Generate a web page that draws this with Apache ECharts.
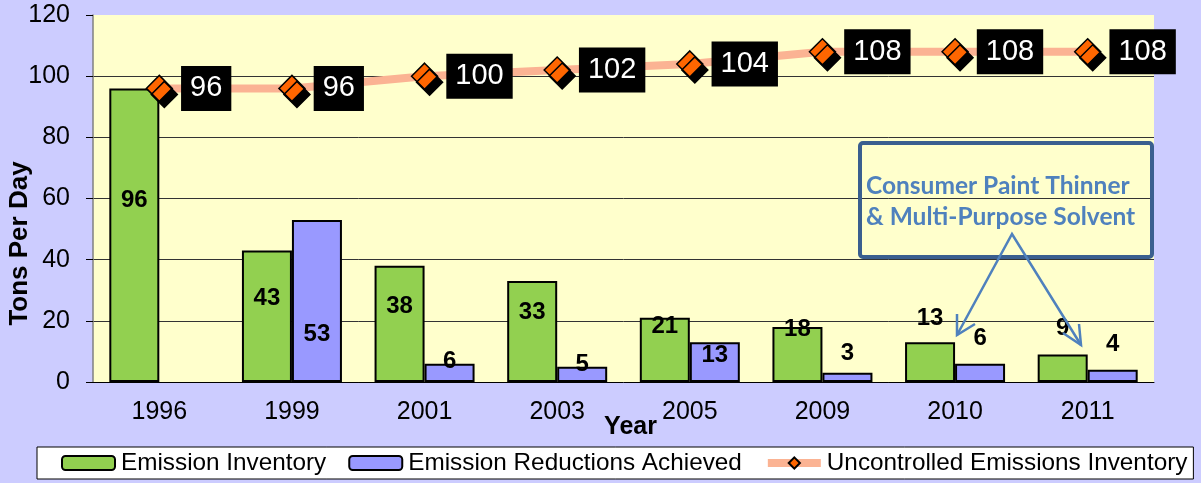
<!DOCTYPE html>
<html>
<head>
<meta charset="utf-8">
<title>Tons Per Day</title>
<script src="https://cdn.jsdelivr.net/npm/echarts@6/dist/echarts.min.js"></script>
<style>
  html, body { margin: 0; padding: 0; background: #CCCCFF; }
  #chart { width: 1201px; height: 483px; }
</style>
</head>
<body>
<div id="chart"></div>
<script>
(function () {
    'use strict';

    //////////DATA
    var years = ['1996', '1999', '2001', '2003', '2005', '2009', '2010', '2011'];
    var emissionInventory = [96, 43, 38, 33, 21, 18, 13, 9];
    var reductionsAchieved = [null, 53, 6, 5, 13, 3, 6, 4];
    var uncontrolled = [96, 96, 100, 102, 104, 108, 108, 108];
    var yTicks = { min: 0, max: 120, step: 20 };
    //////////DATA

    //Donde cae cada etiqueta de barra, en px desde el tope de la barra (como estaba en el original)
    var invLabelShift = [112, 48, 41, 31, 9, 2, -24, -26];
    var redLabelShift = [0, 114, -2, -2, 13, -19, -25, -25];

    var font = 'Liberation Sans, Arial, sans-serif';
    var chart = echarts.init(document.getElementById('chart'));

    function barData(values, shifts) {
        var out = [];
        for (var i = 0; i < values.length; i++) {
            out.push({
                value: values[i],
                label: { position: ['50%', shifts[i]] }
            });
        }
        return out;
    }

    var barLabel = {
        show: true,
        color: '#000',
        fontFamily: font,
        fontWeight: 'bold',
        fontSize: 24,
        align: 'center',
        verticalAlign: 'middle'
    };

    var option = {
        backgroundColor: '#CCCCFF',
        animation: false,
        grid: {
            left: 93, right: 47, top: 15, bottom: 101,
            outerBoundsMode: 'none',
            containLabel: false,
            show: true, backgroundColor: '#FFFFCC', borderWidth: 0
        },
        legend: {
            left: 37, top: 447,
            width: 1150,
            padding: [2, 6, 2, 24],
            itemGap: 22,
            itemWidth: 53, itemHeight: 14,
            backgroundColor: '#fff',
            borderColor: '#000', borderWidth: 1,
            selectedMode: false,
            textStyle: { fontFamily: font, fontSize: 24.3, lineHeight: 28, color: '#000', padding: [0, 0, 0, 1] },
            data: [
                'Emission Inventory',
                'Emission Reductions Achieved',
                { name: 'Uncontrolled Emissions Inventory', lineStyle: { width: 8 } }
            ]
        },
        xAxis: {
            type: 'category',
            data: years,
            name: 'Year',
            nameLocation: 'middle',
            nameGap: 33,
            nameMoveOverlap: false,
            nameTextStyle: { fontFamily: font, fontWeight: 'bold', fontSize: 25, color: '#000', padding: [0, 0, 0, 14] },
            axisLine: { lineStyle: { color: '#000', width: 1 } },
            axisTick: { length: 7, lineStyle: { color: '#000' } },
            axisLabel: { fontFamily: font, fontSize: 25, color: '#000', margin: 18 }
        },
        yAxis: {
            type: 'value',
            min: yTicks.min, max: yTicks.max, interval: yTicks.step,
            name: 'Tons Per Day',
            nameLocation: 'middle',
            nameGap: 60,
            nameMoveOverlap: false,
            nameTextStyle: { fontFamily: font, fontWeight: 'bold', fontSize: 26, color: '#000', padding: [0, 90, 0, 0] },
            axisLine: { show: true, lineStyle: { color: '#808080', width: 1.5 } },
            axisTick: { show: true, length: 7, lineStyle: { color: '#000' } },
            axisLabel: { fontFamily: font, fontSize: 25, color: '#000', margin: 23 },
            splitLine: { show: true, showMinLine: false, showMaxLine: false, lineStyle: { color: '#333', width: 1 } }
        },
        series: [
            {
                name: 'Emission Inventory',
                type: 'bar',
                barWidth: 50,
                barGap: '0%',
                itemStyle: { color: '#92D050', borderColor: '#000', borderWidth: 2 },
                label: barLabel,
                data: barData(emissionInventory, invLabelShift)
            },
            {
                name: 'Emission Reductions Achieved',
                type: 'bar',
                barWidth: 50,
                barGap: '0%',
                itemStyle: { color: '#9999FF', borderColor: '#000', borderWidth: 2 },
                label: barLabel,
                data: barData(reductionsAchieved, redLabelShift)
            },
            {
                name: 'Uncontrolled Emissions Inventory',
                type: 'line',
                z: 5,
                symbol: 'diamond',
                symbolSize: 26,
                lineStyle: { color: '#FBB393', width: 8 },
                itemStyle: {
                    color: '#FF6600', borderColor: '#000', borderWidth: 1.5,
                    shadowColor: '#000', shadowBlur: 0, shadowOffsetX: 5, shadowOffsetY: 6
                },
                label: {
                    show: true,
                    position: 'right',
                    distance: 8,
                    fontFamily: font,
                    fontSize: 29,
                    lineHeight: 32,
                    color: '#fff',
                    backgroundColor: '#000',
                    padding: [7, 9, 6, 9]
                },
                data: uncontrolled
            }
        ],
        //////////Cuadro de anotacion + flechas
        graphic: [
            {
                type: 'rect', z: 10,
                shape: { x: 860, y: 143, width: 292, height: 114, r: 3 },
                style: { fill: 'transparent', stroke: '#3A5F8F', lineWidth: 4 }
            },
            {
                type: 'text', z: 11, left: 866, top: 171,
                style: {
                    text: 'Consumer Paint Thinner\n& Multi-Purpose Solvent',
                    fill: '#4F81BD', font: 'bold 24.5px Lato, "Open Sans", sans-serif', lineHeight: 31
                }
            },
            {
                type: 'polyline', z: 11,
                shape: { points: [[957, 335], [1012, 234], [1081, 345]] },
                style: { fill: null, stroke: '#4F81BD', lineWidth: 2.5 }
            },
            {
                type: 'polyline', z: 11,
                shape: { points: [[957, 314], [957, 335], [975, 324]] },
                style: { fill: null, stroke: '#4F81BD', lineWidth: 2.5 }
            },
            {
                type: 'polyline', z: 11,
                shape: { points: [[1079, 324], [1081, 345], [1063, 333]] },
                style: { fill: null, stroke: '#4F81BD', lineWidth: 2.5 }
            }
        ]
    };

    chart.setOption(option);
})();
</script>
</body>
</html>
